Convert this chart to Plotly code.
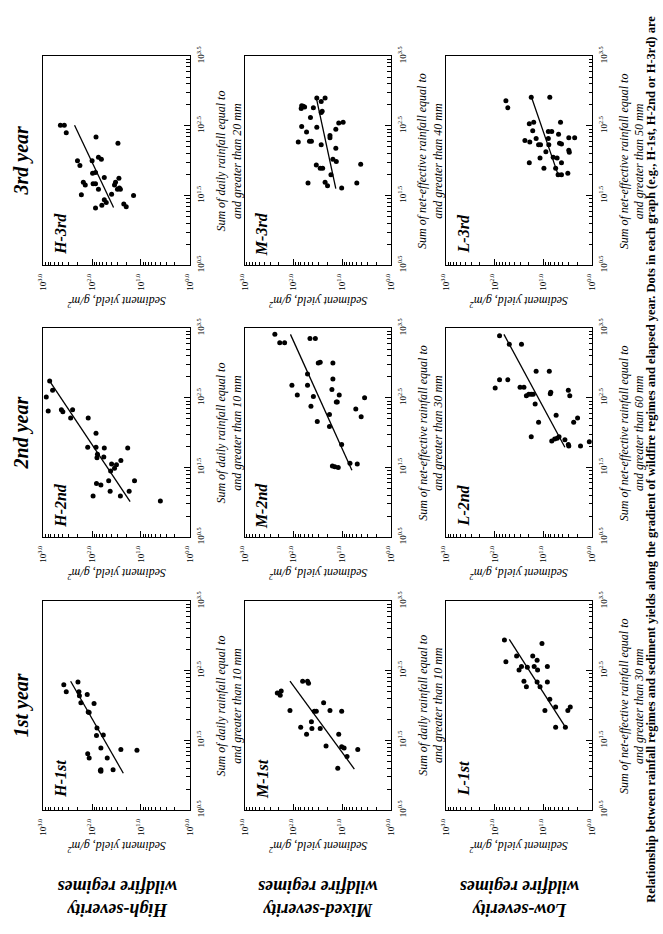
import plotly.graph_objects as go

# ---------------- data (log10 exponents) ----------------
# sediment yield exponent (g/m^2) and rainfall exponent (mm) for each panel
H1_sed = [2.58, 2.53, 2.29, 2.27, 2.26, 2.10, 2.23, 1.96, 2.08, 2.06, 1.90, 1.91, 1.77, 1.82, 1.41, 1.08, 2.09, 2.06, 1.69, 1.82, 1.82, 1.57, 1.83]
H1_rain = [2.30, 2.20, 2.34, 2.20, 2.14, 2.16, 2.04, 2.03, 1.91, 1.90, 1.68, 1.57, 1.58, 1.39, 1.37, 1.36, 1.31, 1.25, 1.25, 1.08, 1.06, 1.08, 1.07]
H1_fit_sed = [2.44, 1.36]
H1_fit_rain = [2.35, 1.03]

H2_sed = [2.94, 2.90, 2.87, 2.81, 2.63, 2.60, 2.44, 2.40, 2.08, 1.92, 2.09, 1.92, 1.75, 1.89, 1.90, 1.76, 1.60, 1.27, 1.41, 1.50, 1.54, 1.62, 1.91, 1.82, 1.66, 1.13, 1.98, 1.63, 1.42, 1.24, 0.60]
H2_rain = [2.51, 2.31, 2.74, 2.61, 2.33, 2.30, 2.21, 2.33, 2.21, 1.99, 1.79, 1.79, 1.78, 1.69, 1.64, 1.65, 1.55, 1.78, 1.60, 1.54, 1.49, 1.45, 1.27, 1.25, 1.31, 1.31, 1.09, 1.16, 1.09, 1.16, 1.02]
H2_fit_sed = [2.87, 1.22]
H2_fit_rain = [2.74, 1.01]

H3_sed = [2.65, 2.57, 2.53, 1.92, 1.47, 2.30, 2.25, 1.87, 1.81, 2.00, 1.93, 1.99, 1.75, 2.18, 2.14, 1.98, 1.93, 1.87, 1.52, 1.54, 1.45, 1.44, 1.42, 1.48, 2.22, 1.60, 1.15, 1.75, 1.71, 1.93, 1.80, 1.35, 1.30]
H3_rain = [2.51, 2.51, 2.40, 2.34, 2.25, 2.00, 1.93, 2.05, 2.02, 2.00, 1.83, 1.82, 1.76, 1.69, 1.65, 1.67, 1.67, 1.59, 1.69, 1.65, 1.75, 1.61, 1.59, 1.59, 1.51, 1.52, 1.50, 1.44, 1.40, 1.32, 1.36, 1.38, 1.34]
H3_fit_sed = [2.36, 1.56]
H3_fit_rain = [2.51, 1.33]

M1_sed = [2.33, 2.27, 2.25, 2.07, 1.81, 1.71, 1.69, 1.85, 1.73, 1.63, 1.62, 1.57, 1.53, 1.45, 1.38, 1.33, 1.25, 1.07, 1.01, 1.01, 0.96, 0.90, 0.68, 1.09]
M1_rain = [2.18, 2.15, 2.21, 1.93, 2.35, 2.35, 2.32, 1.69, 1.59, 1.77, 1.67, 1.92, 1.92, 1.67, 2.04, 1.42, 1.93, 1.59, 1.92, 1.41, 1.39, 1.27, 1.37, 1.10]
M1_fit_sed = [2.07, 0.75]
M1_fit_rain = [2.35, 1.09]

M2_sed = [2.38, 2.28, 2.18, 1.66, 1.55, 1.49, 1.45, 1.19, 1.71, 2.03, 1.71, 1.19, 1.92, 1.59, 1.21, 1.06, 1.12, 1.10, 0.54, 1.64, 1.26, 0.72, 0.61, 1.51, 1.26, 1.01, 1.20, 1.15, 1.08, 0.84, 0.69]
M2_rain = [3.41, 3.29, 3.29, 3.35, 3.35, 3.00, 3.01, 3.00, 2.84, 2.68, 2.68, 2.77, 2.54, 2.52, 2.62, 2.54, 2.44, 2.44, 2.50, 2.38, 2.26, 2.34, 2.23, 2.16, 2.09, 1.83, 1.52, 1.51, 1.50, 1.56, 1.55]
M2_fit_sed = [2.06, 0.80]
M2_fit_rain = [3.41, 1.46]

M3_sed = [1.90, 1.83, 1.73, 1.67, 1.63, 1.65, 1.84, 1.80, 1.77, 1.83, 1.59, 1.52, 1.35, 1.43, 1.41, 1.43, 1.52, 1.43, 1.25, 1.25, 1.13, 1.07, 0.98, 1.13, 1.19, 1.12, 1.53, 1.45, 1.40, 1.23, 1.70, 1.35, 1.30, 1.01, 0.70, 0.62]
M3_rain = [2.27, 2.49, 2.41, 2.28, 2.28, 2.62, 2.75, 2.78, 2.77, 2.79, 2.76, 2.90, 2.90, 2.85, 2.71, 2.69, 2.48, 2.23, 2.36, 2.33, 2.45, 2.54, 2.55, 2.18, 2.02, 1.99, 1.94, 1.89, 1.89, 1.80, 1.68, 1.69, 1.64, 1.61, 1.68, 1.95]
M3_fit_sed = [1.53, 1.13]
M3_fit_rain = [2.90, 1.60]

L1_sed = [1.80, 1.77, 1.55, 1.50, 1.45, 1.40, 1.35, 1.33, 1.22, 1.19, 1.13, 1.12, 1.13, 1.07, 1.03, 0.92, 0.92, 0.87, 0.97, 0.75, 0.75, 0.50, 0.45, 0.55]
L1_rain = [2.94, 2.63, 2.71, 2.51, 2.56, 2.35, 2.27, 2.55, 2.71, 2.56, 2.65, 2.51, 2.34, 2.27, 2.89, 2.56, 2.34, 2.09, 1.93, 1.98, 1.69, 1.93, 1.98, 1.69]
L1_fit_sed = [1.70, 0.53]
L1_fit_rain = [2.95, 1.67]

L2_sed = [1.90, 1.70, 1.45, 1.90, 1.73, 1.99, 1.48, 1.40, 1.15, 0.88, 1.35, 1.30, 1.25, 1.21, 1.17, 1.10, 1.25, 0.86, 0.85, 0.49, 0.46, 0.74, 0.38, 0.30, 0.83, 0.77, 0.72, 0.68, 0.56, 0.49, 0.48, 0.24, 0.06]
L2_rain = [3.39, 3.27, 3.27, 2.76, 2.76, 2.64, 2.65, 2.65, 2.88, 2.88, 2.53, 2.55, 2.55, 2.55, 2.41, 2.15, 1.94, 2.56, 2.58, 2.61, 2.53, 2.25, 2.15, 2.21, 1.88, 1.91, 1.92, 1.94, 1.90, 1.83, 1.81, 1.81, 1.87]
L2_fit_sed = [1.81, 0.56]
L2_fit_rain = [3.41, 1.79]

L3_sed = [1.77, 1.73, 1.25, 0.87, 1.38, 1.29, 1.20, 1.28, 1.22, 1.15, 1.10, 1.06, 0.90, 0.90, 0.83, 0.89, 0.95, 0.65, 0.69, 0.67, 0.63, 0.48, 0.36, 0.48, 0.47, 1.29, 1.07, 0.99, 0.80, 0.72, 0.63, 0.75, 0.70, 0.63, 0.50]
L3_rain = [2.86, 2.76, 2.91, 2.91, 2.29, 2.53, 2.55, 2.27, 2.43, 2.32, 2.23, 2.23, 2.32, 2.42, 2.42, 2.23, 2.13, 2.55, 2.38, 2.25, 2.24, 2.33, 2.33, 2.15, 2.12, 1.97, 2.04, 1.89, 2.05, 2.04, 1.97, 1.89, 1.80, 1.80, 1.82]
L3_fit_sed = [1.25, 0.70]
L3_fit_rain = [2.92, 1.80]

regimes = ["H", "M", "L"]
years = ["1st", "2nd", "3rd"]
regime_labels = ["High-severity<br>wildfire regimes", "Mixed-severity<br>wildfire regimes", "Low-severity<br>wildfire regimes"]
year_labels = ["1st year", "2nd year", "3rd year"]
rain_titles = {
    "H-1st": "Sum of daily rainfall equal to<br>and greater than 10 mm",
    "H-2nd": "Sum of daily rainfall equal to<br>and greater than 10 mm",
    "H-3rd": "Sum of daily rainfall equal to<br>and greater than 20 mm",
    "M-1st": "Sum of daily rainfall equal to<br>and greater than 10 mm",
    "M-2nd": "Sum of net-effective rainfall equal to<br>and greater than 30 mm",
    "M-3rd": "Sum of net-effective rainfall equal to<br>and greater than 40 mm",
    "L-1st": "Sum of net-effective rainfall equal to<br>and greater than 30 mm",
    "L-2nd": "Sum of net-effective rainfall equal to<br>and greater than 60 mm",
    "L-3rd": "Sum of net-effective rainfall equal to<br>and greater than 50 mm",
}
sed_title = "Sediment yield, g/m<sup>2</sup>"
sed_tick_exp = [0.0, 1.0, 2.0, 3.0]
rain_tick_exp = [0.5, 1.5, 2.5, 3.5]
caption = ("Relationship between rainfall regimes and sediment yields along the gradient of wildfire regimes "
           "and elapsed year. Dots in each graph (e.g., H-1st, H-2nd or H-3rd) are")

panels = {
    "H-1st": (H1_sed, H1_rain, H1_fit_sed, H1_fit_rain),
    "H-2nd": (H2_sed, H2_rain, H2_fit_sed, H2_fit_rain),
    "H-3rd": (H3_sed, H3_rain, H3_fit_sed, H3_fit_rain),
    "M-1st": (M1_sed, M1_rain, M1_fit_sed, M1_fit_rain),
    "M-2nd": (M2_sed, M2_rain, M2_fit_sed, M2_fit_rain),
    "M-3rd": (M3_sed, M3_rain, M3_fit_sed, M3_fit_rain),
    "L-1st": (L1_sed, L1_rain, L1_fit_sed, L1_fit_rain),
    "L-2nd": (L2_sed, L2_rain, L2_fit_sed, L2_fit_rain),
    "L-3rd": (L3_sed, L3_rain, L3_fit_sed, L3_fit_rain),
}

# ---------------- layout geometry (page is rotated 90 deg CCW) ----------------
W, H = 663, 934
col_left = {"H": 37, "M": 242, "L": 447}
row_top = {"3rd": 47, "2nd": 324, "1st": 602}
PW, PH = 149, 213
FONT = "Liberation Serif"

def px(x):
    return x / W

def py(y):
    return 1 - y / H

fig = go.Figure()
layout = dict(
    width=W, height=H, margin=dict(l=0, r=0, t=0, b=0),
    paper_bgcolor="white", plot_bgcolor="white", showlegend=False,
    font=dict(family=FONT, color="black"),
)
annotations = []

sed_minor = [k * 10 ** d for d in range(3) for k in range(2, 10)]
rain_minor = [k * 10 ** (d + 0.5) for d in range(3) for k in range(2, 10)]

k = 0
for r in regimes:
    for yname in years:
        k += 1
        name = f"{r}-{yname}"
        sed, rain, fsed, frain = panels[name]
        xs = "x" if k == 1 else f"x{k}"
        ys = "y" if k == 1 else f"y{k}"
        left = col_left[r]
        right = left + PW
        top = row_top[yname]
        bottom = top + PH
        fig.add_trace(go.Scatter(
            x=[10 ** v for v in sed], y=[10 ** v for v in rain], mode="markers",
            marker=dict(color="black", size=5), xaxis=xs, yaxis=ys))
        fig.add_trace(go.Scatter(
            x=[10 ** v for v in fsed], y=[10 ** v for v in frain], mode="lines",
            line=dict(color="black", width=1.3), xaxis=xs, yaxis=ys))
        xkey = "xaxis" if k == 1 else f"xaxis{k}"
        ykey = "yaxis" if k == 1 else f"yaxis{k}"
        layout[xkey] = dict(
            domain=[px(left), px(right)], anchor=ys, type="log", range=[3, 0],
            showline=True, mirror=True, linecolor="black", linewidth=1,
            showgrid=False, zeroline=False,
            ticks="inside", ticklen=6, tickwidth=1, tickcolor="black",
            tickmode="array", tickvals=[10 ** e for e in sed_tick_exp],
            ticktext=[f"10<sup>{e:.1f}</sup>" for e in sed_tick_exp],
            tickangle=-90, tickfont=dict(family=FONT, size=9), ticklabelstandoff=4,
            minor=dict(tickmode="array", tickvals=sed_minor, ticks="inside",
                       ticklen=3.5, tickwidth=1, tickcolor="black", showgrid=False),
        )
        layout[ykey] = dict(
            domain=[py(bottom), py(top)], anchor=xs, side="right", type="log", range=[0.5, 3.5],
            showline=True, mirror=True, linecolor="black", linewidth=1,
            showgrid=False, zeroline=False,
            ticks="inside", ticklen=6, tickwidth=1, tickcolor="black",
            tickmode="array", tickvals=[10 ** e for e in rain_tick_exp],
            ticktext=[f"10<sup>{e:.1f}</sup>" for e in rain_tick_exp],
            tickangle=-90, tickfont=dict(family=FONT, size=9), ticklabelstandoff=3,
            minor=dict(tickmode="array", tickvals=rain_minor, ticks="inside",
                       ticklen=3.5, tickwidth=1, tickcolor="black", showgrid=False),
        )
        # panel label
        annotations.append(dict(
            x=px(left + 18), y=py(bottom - 32), xref="paper", yref="paper",
            text=f"<b><i>{name}</i></b>", textangle=-90, showarrow=False,
            font=dict(family=FONT, size=16), xanchor="center", yanchor="middle"))
        # sediment axis title (upside down)
        annotations.append(dict(
            x=px((left + right) / 2), y=py(bottom + 37), xref="paper", yref="paper",
            text=f"<i>{sed_title}</i>", textangle=180, showarrow=False,
            font=dict(family=FONT, size=12), xanchor="center", yanchor="middle"))
        # rainfall axis title
        annotations.append(dict(
            x=px(right + 40), y=py((top + bottom) / 2), xref="paper", yref="paper",
            text=f"<i>{rain_titles[name]}</i>", textangle=-90, showarrow=False,
            font=dict(family=FONT, size=12), xanchor="center", yanchor="middle"))

# year headers
for yname, lab in zip(years, year_labels):
    top = row_top[yname]
    annotations.append(dict(
        x=px(15), y=py(top + PH / 2), xref="paper", yref="paper",
        text=f"<b><i>{lab}</i></b>", textangle=-90, showarrow=False,
        font=dict(family=FONT, size=20), xanchor="center", yanchor="middle"))

# regime labels (upside down)
for r, lab in zip(regimes, regime_labels):
    left = col_left[r]
    annotations.append(dict(
        x=px(left + PW / 2), y=py(905), xref="paper", yref="paper",
        text=f"<b><i>{lab}</i></b>", textangle=180, showarrow=False,
        font=dict(family=FONT, size=18), xanchor="center", yanchor="middle"))

# caption
annotations.append(dict(
    x=px(656), y=py(458), xref="paper", yref="paper",
    text=f"<b>{caption}</b>", textangle=-90, showarrow=False,
    font=dict(family=FONT, size=12.5), xanchor="center", yanchor="middle"))

layout["annotations"] = annotations
fig.update_layout(**layout)
fig.write_html("out.html")
